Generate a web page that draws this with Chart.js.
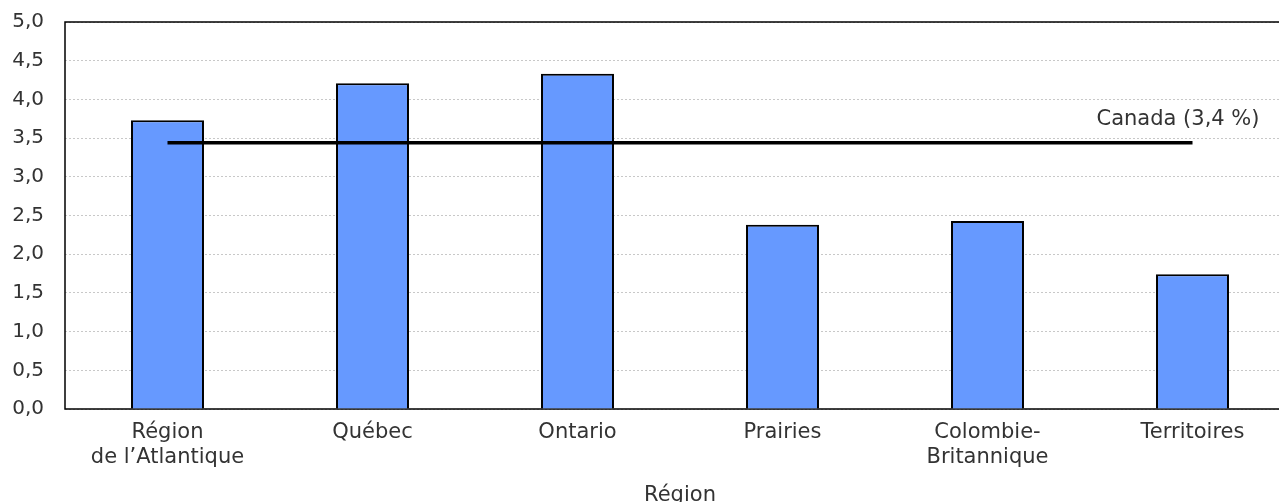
<!DOCTYPE html>
<html>
<head>
<meta charset="utf-8">
<script src="https://cdn.jsdelivr.net/npm/chart.js@4"></script>
<style>
    html, body { margin: 0; padding: 0; background: #fff; overflow: hidden; }
    #wrap { width: 1300px; height: 510px; position: relative; }
</style>
</head>
<body>
<div id="wrap"><canvas id="chart"></canvas></div>
<script>
// Regions (x categories)
const regions = [
    ['Région', 'de l’Atlantique'],
    'Québec',
    'Ontario',
    'Prairies',
    ['Colombie-', 'Britannique'],
    'Territoires'
];
// Rate by region (%)
const regionValues = [3.73, 4.21, 4.33, 2.38, 2.43, 1.74];
// Canada average, drawn as a flat line across the regions
const canadaValue = 3.44;
const canadaLabel = 'Canada (3,4 %)';
const yTicks = [0, 0.5, 1, 1.5, 2, 2.5, 3, 3.5, 4, 4.5, 5];

const FONT = 'DejaVu Sans, Verdana, sans-serif';
const TEXT_COLOR = '#333333';

// frame round the plot area (left, top, bottom)
const framePlugin = {
    id: 'frame',
    beforeDatasetsDraw(chart) {
        const { ctx, chartArea } = chart;
        ctx.save();
        ctx.strokeStyle = '#000';
        ctx.lineWidth = 1.5;
        ctx.beginPath();
        ctx.moveTo(chartArea.right + 5, chartArea.top);
        ctx.lineTo(chartArea.left, chartArea.top);
        ctx.lineTo(chartArea.left, chartArea.bottom);
        ctx.lineTo(chartArea.right + 5, chartArea.bottom);
        ctx.stroke();
        ctx.restore();
    }
};

// label for the Canada line, placed off the last category
const canadaLabelPlugin = {
    id: 'canadaLabel',
    afterDatasetsDraw(chart) {
        const { ctx, scales } = chart;
        const x = scales.x.getPixelForValue(regions.length - 1) + 67;
        const y = scales.y.getPixelForValue(canadaValue) - 18;
        ctx.save();
        ctx.font = '21px ' + FONT;
        ctx.fillStyle = TEXT_COLOR;
        ctx.textAlign = 'right';
        ctx.textBaseline = 'alphabetic';
        ctx.fillText(canadaLabel, x, y);
        ctx.restore();
    }
};

new Chart(document.getElementById('chart'), {
    type: 'bar',
    data: {
        labels: regions,
        datasets: [
            {
                label: 'Régions',
                data: regionValues,
                backgroundColor: '#6699ff',
                borderColor: '#000000',
                borderWidth: 2,
                categoryPercentage: 1,
                barPercentage: 0.356,
                order: 2
            },
            {
                label: canadaLabel,
                data: Array(regions.length).fill(canadaValue),
                type: 'line',
                borderColor: '#000000',
                borderWidth: 3.5,
                pointRadius: 0,
                tension: 0,
                fill: false,
                order: 1
            }
        ]
    },
    options: {
        responsive: true,
        maintainAspectRatio: false,
        animation: false,
        layout: { padding: { top: 22, right: 5, left: 0, bottom: 0 } },
        plugins: {
            legend: { display: false },
            tooltip: { enabled: false }
        },
        scales: {
            x: {
                grid: { display: false, drawTicks: false },
                border: { display: false },
                ticks: {
                    color: TEXT_COLOR,
                    font: { family: FONT, size: 21 },
                    padding: 11,
                    maxRotation: 0,
                    autoSkip: false
                },
                title: {
                    display: true,
                    text: 'Région',
                    color: TEXT_COLOR,
                    font: { family: FONT, size: 21 },
                    padding: { top: 0, bottom: 2 }
                },
                afterFit: (scale) => {
                    scale.height = 101;
                    scale.paddingLeft = 0;
                    scale.paddingRight = 0;
                }
            },
            y: {
                min: 0,
                max: 5,
                afterBuildTicks: (scale) => { scale.ticks = yTicks.map(v => ({ value: v })); },
                grid: { color: '#c8c8c8', lineWidth: 1, drawTicks: false },
                border: { display: false, dash: [2, 2] },
                ticks: {
                    color: TEXT_COLOR,
                    font: { family: FONT, size: 20 },
                    padding: 21,
                    callback: (v) => v.toFixed(1).replace('.', ',')
                },
                afterFit: (scale) => {
                    scale.width = 65;
                    scale.paddingTop = 0;
                    scale.paddingBottom = 0;
                }
            }
        }
    },
    plugins: [framePlugin, canadaLabelPlugin]
});
</script>
</body>
</html>
